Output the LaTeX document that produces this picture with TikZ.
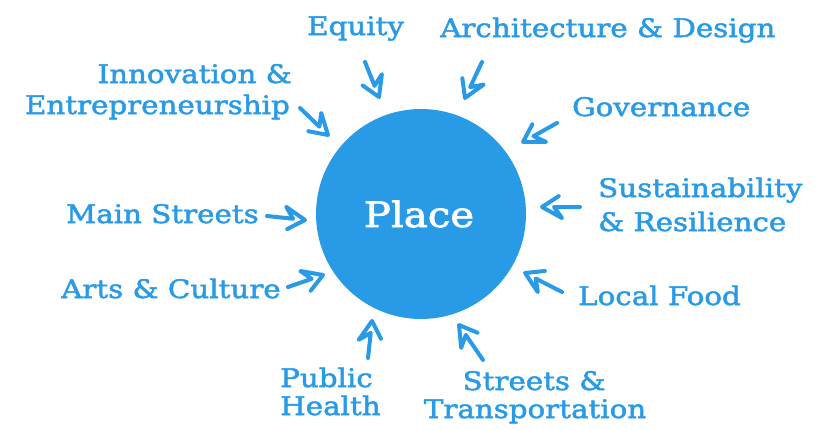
\documentclass[tikz,border=0pt]{standalone}
\usepackage{fontspec}
\setmainfont{DejaVu Serif}[FakeStretch=1.15,FakeBold=2]
\usetikzlibrary{calc}
\definecolor{placeblue}{HTML}{299BE6}
\tikzset{
  lbl/.style={inner sep=0pt, text=placeblue, font=\fontsize{25.5}{30}\selectfont},
  zarr/.style={draw=placeblue, line width=4pt, line cap=round, line join=round},
}
\newcommand\zarrow[2]{%
  \path[zarr] (#1) -- ($(#2)!12pt!(#1)$) -- ($(#2)!23pt!-29:(#1)$) -- (#2) -- ($(#2)!20pt!33:(#1)$);
}
\begin{document}
\begin{tikzpicture}[x=1pt,y=-1pt]
\useasboundingbox (0,0) rectangle (830,431);
\fill[placeblue] (421,214) circle (105);
\node[inner sep=0pt, text=white, font=\fontsize{35}{42}\selectfont, anchor=base] (place) at (419,227) {Place};

\node[lbl, anchor=base west] (equity) at (307,35) {Equity};
\node[lbl, anchor=base west] (arch) at (440,37) {Architecture \& Design};
\node[lbl, anchor=base east] (innov) at (292,83) {Innovation \&};
\node[lbl, anchor=base east] (entre) at (290,114) {Entrepreneurship};
\node[lbl, anchor=base west] (gov) at (572,116) {Governance};
\node[lbl, anchor=base west] (sust) at (598,197) {Sustainability};
\node[lbl, anchor=base west] (resil) at (598,231) {\& Resilience};
\node[lbl, anchor=base west] (main) at (66,223) {Main Streets};
\node[lbl, anchor=base west] (arts) at (61,298) {Arts \& Culture};
\node[lbl, anchor=base west] (food) at (578,305) {Local Food};
\node[lbl, anchor=base west] (public) at (280,387) {Public};
\node[lbl, anchor=base west] (health) at (280,415) {Health};
\node[lbl, anchor=base] (streets) at (534,390) {Streets \&};
\node[lbl, anchor=base] (transp) at (535,418) {Transportation};

\coordinate (eqT) at (365,62);  \coordinate (eqP) at (379,97);
\coordinate (arT) at (482,62);  \coordinate (arP) at (465,98);
\coordinate (inT) at (300,108); \coordinate (inP) at (328,135);
\coordinate (goT) at (557,123); \coordinate (goP) at (523,142);
\coordinate (suT) at (580,207); \coordinate (suP) at (542,207);
\coordinate (lfT) at (562,292); \coordinate (lfP) at (525,273);
\coordinate (msT) at (267,216); \coordinate (msP) at (305,220);
\coordinate (acT) at (288,287); \coordinate (acP) at (323,275);
\coordinate (phT) at (368,358); \coordinate (phP) at (372,321);
\coordinate (stT) at (483,360); \coordinate (stP) at (459,325);

\zarrow{eqT}{eqP}
\zarrow{arT}{arP}
\zarrow{inT}{inP}
\zarrow{goT}{goP}
\zarrow{suT}{suP}
\zarrow{lfT}{lfP}
\zarrow{msT}{msP}
\zarrow{acT}{acP}
\zarrow{phT}{phP}
\zarrow{stT}{stP}
\end{tikzpicture}
\end{document}
